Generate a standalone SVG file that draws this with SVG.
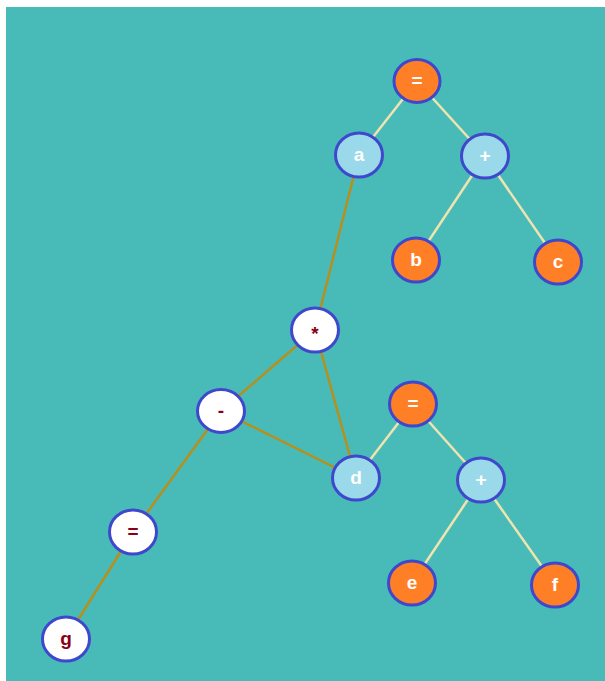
<svg xmlns="http://www.w3.org/2000/svg" width="605" height="681" viewBox="0 0 605 681">
  <style>
    .bg { fill: #48bbb8; }
    .node ellipse { stroke: #3f48cc; stroke-width: 3; }
    .orange ellipse { fill: #ff7f27; }
    .blue ellipse { fill: #99d9ea; }
    .white ellipse { fill: #ffffff; }
    .node text { font-family: "Liberation Sans", Arial, sans-serif; font-weight: bold; font-size: 19px; text-anchor: middle; dominant-baseline: central; }
    .orange text, .blue text { fill: #ffffff; }
    .white text { fill: #880015; }
    .tree { stroke: #efe4b0; stroke-width: 2.5; }
    .link { stroke: #b5901e; stroke-width: 2.5; }
  </style>
  <rect class="bg" x="6" y="7" width="599" height="674"/>

  <g id="connectors">
    <line class="tree" x1="417" y1="81" x2="359" y2="155"/>
    <line class="tree" x1="417" y1="81" x2="485" y2="156"/>
    <line class="tree" x1="485" y1="156" x2="416" y2="260"/>
    <line class="tree" x1="485" y1="156" x2="558" y2="262"/>
    <line class="tree" x1="413" y1="404" x2="356" y2="478"/>
    <line class="tree" x1="413" y1="404" x2="481" y2="480"/>
    <line class="tree" x1="481" y1="480" x2="412" y2="583"/>
    <line class="tree" x1="481" y1="480" x2="555" y2="585"/>
    <line class="link" x1="359" y1="155" x2="315" y2="330"/>
    <line class="link" x1="315" y1="330" x2="221" y2="411"/>
    <line class="link" x1="315" y1="330" x2="356" y2="478"/>
    <line class="link" x1="221" y1="411" x2="356" y2="478"/>
    <line class="link" x1="221" y1="411" x2="133" y2="532"/>
    <line class="link" x1="133" y1="532" x2="66" y2="639"/>
  </g>

  <g id="n-eq-top" class="node orange"><ellipse cx="417" cy="81" rx="23" ry="21.5"/><text x="417" y="80">=</text></g>
  <g id="n-a" class="node blue"><ellipse cx="359" cy="155" rx="23.5" ry="22"/><text x="359" y="154">a</text></g>
  <g id="n-plus-top" class="node blue"><ellipse cx="485" cy="156" rx="23.5" ry="22"/><text x="485" y="155">+</text></g>
  <g id="n-b" class="node orange"><ellipse cx="416" cy="260" rx="23.5" ry="22"/><text x="416" y="259">b</text></g>
  <g id="n-c" class="node orange"><ellipse cx="558" cy="262" rx="23.5" ry="22"/><text x="558" y="261">c</text></g>
  <g id="n-mul" class="node white"><ellipse cx="315" cy="330" rx="23.5" ry="22"/><text x="315" y="333">*</text></g>
  <g id="n-minus" class="node white"><ellipse cx="221" cy="411" rx="23.5" ry="21.5"/><text x="221" y="410">-</text></g>
  <g id="n-eq-mid" class="node orange"><ellipse cx="413" cy="404" rx="23.5" ry="22"/><text x="413" y="403">=</text></g>
  <g id="n-d" class="node blue"><ellipse cx="356" cy="478" rx="23.5" ry="22"/><text x="356" y="477">d</text></g>
  <g id="n-plus-mid" class="node blue"><ellipse cx="481" cy="480" rx="23.5" ry="22"/><text x="481" y="479">+</text></g>
  <g id="n-e" class="node orange"><ellipse cx="412" cy="583" rx="23.5" ry="22"/><text x="412" y="582">e</text></g>
  <g id="n-f" class="node orange"><ellipse cx="555" cy="585" rx="23.5" ry="22"/><text x="555" y="584">f</text></g>
  <g id="n-eq-low" class="node white"><ellipse cx="133" cy="532" rx="23.5" ry="22"/><text x="133" y="531">=</text></g>
  <g id="n-g" class="node white"><ellipse cx="66" cy="639" rx="23.5" ry="22"/><text x="66" y="638">g</text></g>
</svg>
